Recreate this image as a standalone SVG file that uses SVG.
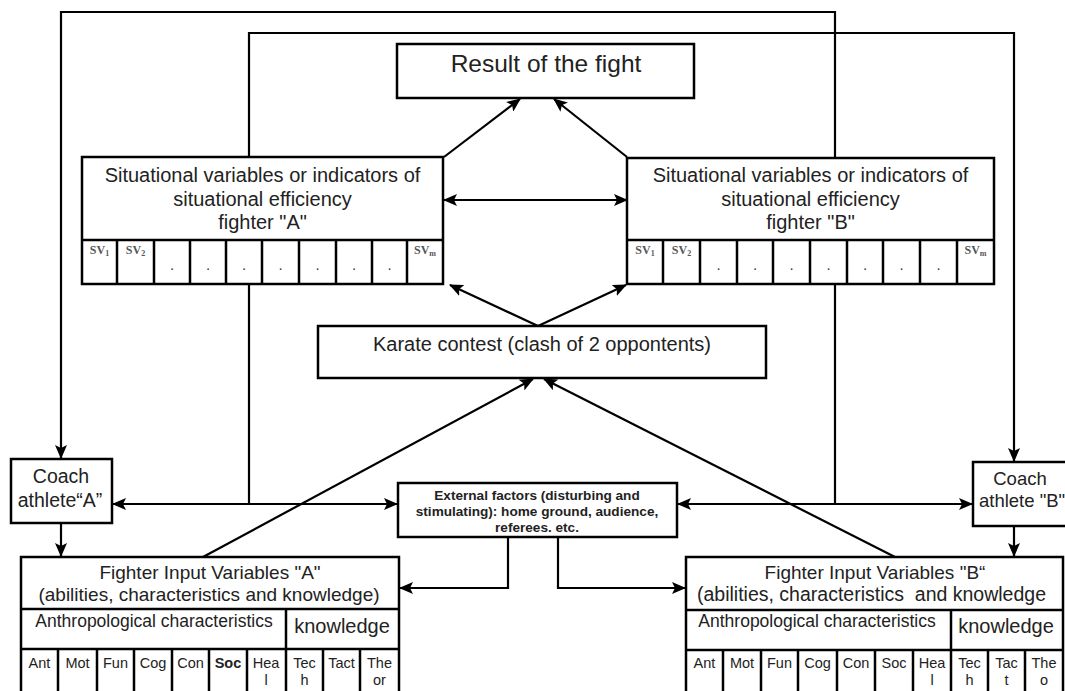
<svg xmlns="http://www.w3.org/2000/svg" width="1065" height="691" viewBox="0 0 1065 691">
<style>
.box{fill:#fff;stroke:#000;stroke-width:2.5}
.ln{fill:none;stroke:#000;stroke-width:2.2}
.cl{stroke:#000;stroke-width:2.5}
text{font-family:"Liberation Sans",Arial,sans-serif;fill:#222}
.t20{font-size:20px;text-anchor:middle}
.t19{font-size:19px;text-anchor:middle}
.ext{font-size:13.6px;font-weight:bold;text-anchor:middle}
.cell{font-size:14.5px;text-anchor:middle}
.sv{font-family:"Liberation Serif","Times New Roman",serif;font-size:12px;font-weight:bold;fill:#555;text-anchor:middle}
.dot{font-size:15px;text-anchor:middle;fill:#333}
</style>
<defs>
<marker id="ah" markerUnits="userSpaceOnUse" markerWidth="14" markerHeight="12" refX="13" refY="6" orient="auto-start-reverse">
<path d="M0,0 L14,6 L0,12 L3,6 z" fill="#000"/>
</marker>
</defs>

<g id="connectors">
<path class="ln" d="M835,504 V12 H61 V458" marker-end="url(#ah)"/>
<path class="ln" d="M249,504 V33 H1014 V461" marker-end="url(#ah)"/>
<path class="ln" d="M61,523 V556" marker-end="url(#ah)"/>
<path class="ln" d="M1014,526 V556" marker-end="url(#ah)"/>
<path class="ln" d="M113,504 H397" marker-start="url(#ah)" marker-end="url(#ah)"/>
<path class="ln" d="M678,504 H972" marker-start="url(#ah)" marker-end="url(#ah)"/>
<path class="ln" d="M508,537 V588 H400" marker-end="url(#ah)"/>
<path class="ln" d="M558,537 V588 H685" marker-end="url(#ah)"/>
<path class="ln" d="M203,557 L533,379" marker-end="url(#ah)"/>
<path class="ln" d="M895,557 L544,379" marker-end="url(#ah)"/>
<path class="ln" d="M538,326 L450,285" marker-end="url(#ah)"/>
<path class="ln" d="M538,326 L626,285" marker-end="url(#ah)"/>
<path class="ln" d="M444,157 L520,99" marker-end="url(#ah)"/>
<path class="ln" d="M627,157 L554,99" marker-end="url(#ah)"/>
<path class="ln" d="M444,200 H627" marker-start="url(#ah)" marker-end="url(#ah)"/>
</g>

<g id="result">
<rect class="box" x="397" y="44" width="297" height="54"/>
<text x="546" y="72" style="font-size:24.5px;text-anchor:middle">Result of the fight</text>
</g>

<g id="sv-a">
<rect class="box" x="82" y="157" width="361" height="127"/>
<line class="cl" x1="82" y1="240" x2="443" y2="240"/>
<path class="cl" d="M117,240V284M154,240V284M190,240V284M226,240V284M262,240V284M299,240V284M336,240V284M372,240V284M407,240V284"/>
<text class="t20" x="262.5" y="182">Situational variables or indicators of</text>
<text class="t20" x="262.5" y="206">situational efficiency</text>
<text class="t20" x="262.5" y="229">fighter "A"</text>
<text class="sv" x="99.5" y="254">SV<tspan font-size="8" dy="2">1</tspan></text>
<text class="sv" x="135.5" y="254">SV<tspan font-size="8" dy="2">2</tspan></text>
<text class="dot" x="172" y="270">.</text>
<text class="dot" x="208" y="270">.</text>
<text class="dot" x="244" y="270">.</text>
<text class="dot" x="280.5" y="270">.</text>
<text class="dot" x="317.5" y="270">.</text>
<text class="dot" x="354" y="270">.</text>
<text class="dot" x="389.5" y="270">.</text>
<text class="sv" x="425" y="254">SV<tspan font-size="8" dy="2">m</tspan></text>
</g>

<g id="sv-b">
<rect class="box" x="627" y="158" width="367" height="126"/>
<line class="cl" x1="627" y1="240" x2="994" y2="240"/>
<path class="cl" d="M663,240V284M700,240V284M737,240V284M773,240V284M810,240V284M847,240V284M883,240V284M920,240V284M957,240V284"/>
<text class="t20" x="810.5" y="182">Situational variables or indicators of</text>
<text class="t20" x="810.5" y="206">situational efficiency</text>
<text class="t20" x="810.5" y="229">fighter "B"</text>
<text class="sv" x="645" y="254">SV<tspan font-size="8" dy="2">1</tspan></text>
<text class="sv" x="681.5" y="254">SV<tspan font-size="8" dy="2">2</tspan></text>
<text class="dot" x="718.5" y="270">.</text>
<text class="dot" x="755" y="270">.</text>
<text class="dot" x="791.5" y="270">.</text>
<text class="dot" x="828.5" y="270">.</text>
<text class="dot" x="865" y="270">.</text>
<text class="dot" x="901.5" y="270">.</text>
<text class="dot" x="938.5" y="270">.</text>
<text class="sv" x="975.5" y="254">SV<tspan font-size="8" dy="2">m</tspan></text>
</g>

<g id="karate">
<rect class="box" x="318" y="326" width="448" height="52"/>
<text x="542" y="351" style="font-size:20px;text-anchor:middle">Karate contest (clash of 2 oppontents)</text>
</g>

<g id="coach-a">
<rect class="box" x="11" y="459" width="101" height="64"/>
<text x="61" y="483" style="font-size:19.5px;text-anchor:middle">Coach</text>
<text x="60" y="507" style="font-size:19.5px;text-anchor:middle">athlete“A”</text>
</g>

<g id="coach-b">
<rect class="box" x="973" y="462" width="110" height="64"/>
<text x="1020" y="485" style="font-size:18.5px;text-anchor:middle">Coach</text>
<text x="979" y="507" style="font-size:18.5px">athlete "B"</text>
</g>

<g id="external">
<rect class="box" x="398" y="483" width="279" height="54"/>
<text class="ext" x="537" y="500">External factors (disturbing and</text>
<text class="ext" x="537" y="516">stimulating): home ground, audience,</text>
<text class="ext" x="537" y="532">referees. etc.</text>
</g>

<g id="fighter-a">
<rect class="box" x="21" y="557" width="378" height="150"/>
<line class="cl" x1="21" y1="609" x2="399" y2="609"/>
<line class="cl" x1="21" y1="649" x2="399" y2="649"/>
<line class="cl" x1="286" y1="609" x2="286" y2="649"/>
<path class="cl" d="M58,649V700M97,649V700M134,649V700M172,649V700M209,649V700M247,649V700M286,649V700M323,649V700M360,649V700"/>
<text class="t19" x="210" y="579">Fighter Input Variables "A"</text>
<text class="t19" x="209" y="601">(abilities, characteristics and knowledge)</text>
<text x="154" y="627" style="font-size:17.5px;text-anchor:middle">Anthropological characteristics</text>
<text class="t20" x="342" y="633">knowledge</text>
<text class="cell" x="39.5" y="668">Ant</text>
<text class="cell" x="77.5" y="668">Mot</text>
<text class="cell" x="115.5" y="668">Fun</text>
<text class="cell" x="153" y="668">Cog</text>
<text class="cell" x="190.5" y="668">Con</text>
<text class="cell" x="228" y="668" font-weight="bold">Soc</text>
<text class="cell" x="266" y="668">Hea</text>
<text class="cell" x="266" y="685">l</text>
<text class="cell" x="304.5" y="668">Tec</text>
<text class="cell" x="304.5" y="685">h</text>
<text class="cell" x="341.5" y="668">Tact</text>
<text class="cell" x="379.5" y="668">The</text>
<text class="cell" x="379.5" y="685">or</text>
</g>

<g id="fighter-b">
<rect class="box" x="686" y="557" width="377" height="150"/>
<line class="cl" x1="686" y1="610" x2="1063" y2="610"/>
<line class="cl" x1="686" y1="650" x2="1063" y2="650"/>
<line class="cl" x1="951" y1="610" x2="951" y2="650"/>
<path class="cl" d="M723,650V700M761,650V700M798,650V700M837,650V700M875,650V700M913,650V700M951,650V700M988,650V700M1025,650V700"/>
<text class="t19" x="875" y="579">Fighter Input Variables "B“</text>
<text x="697" y="601" style="font-size:19.5px" xml:space="preserve">(abilities, characteristics  and knowledge</text>
<text x="817" y="627" style="font-size:17.5px;text-anchor:middle">Anthropological characteristics</text>
<text class="t20" x="1006" y="633">knowledge</text>
<text class="cell" x="704.5" y="668">Ant</text>
<text class="cell" x="742" y="668">Mot</text>
<text class="cell" x="779.5" y="668">Fun</text>
<text class="cell" x="817.5" y="668">Cog</text>
<text class="cell" x="856" y="668">Con</text>
<text class="cell" x="894" y="668">Soc</text>
<text class="cell" x="932" y="668">Hea</text>
<text class="cell" x="932" y="685">l</text>
<text class="cell" x="969.5" y="668">Tec</text>
<text class="cell" x="969.5" y="685">h</text>
<text class="cell" x="1006.5" y="668">Tac</text>
<text class="cell" x="1006.5" y="685">t</text>
<text class="cell" x="1044" y="668">The</text>
<text class="cell" x="1044" y="685">o</text>
</g>
</svg>
